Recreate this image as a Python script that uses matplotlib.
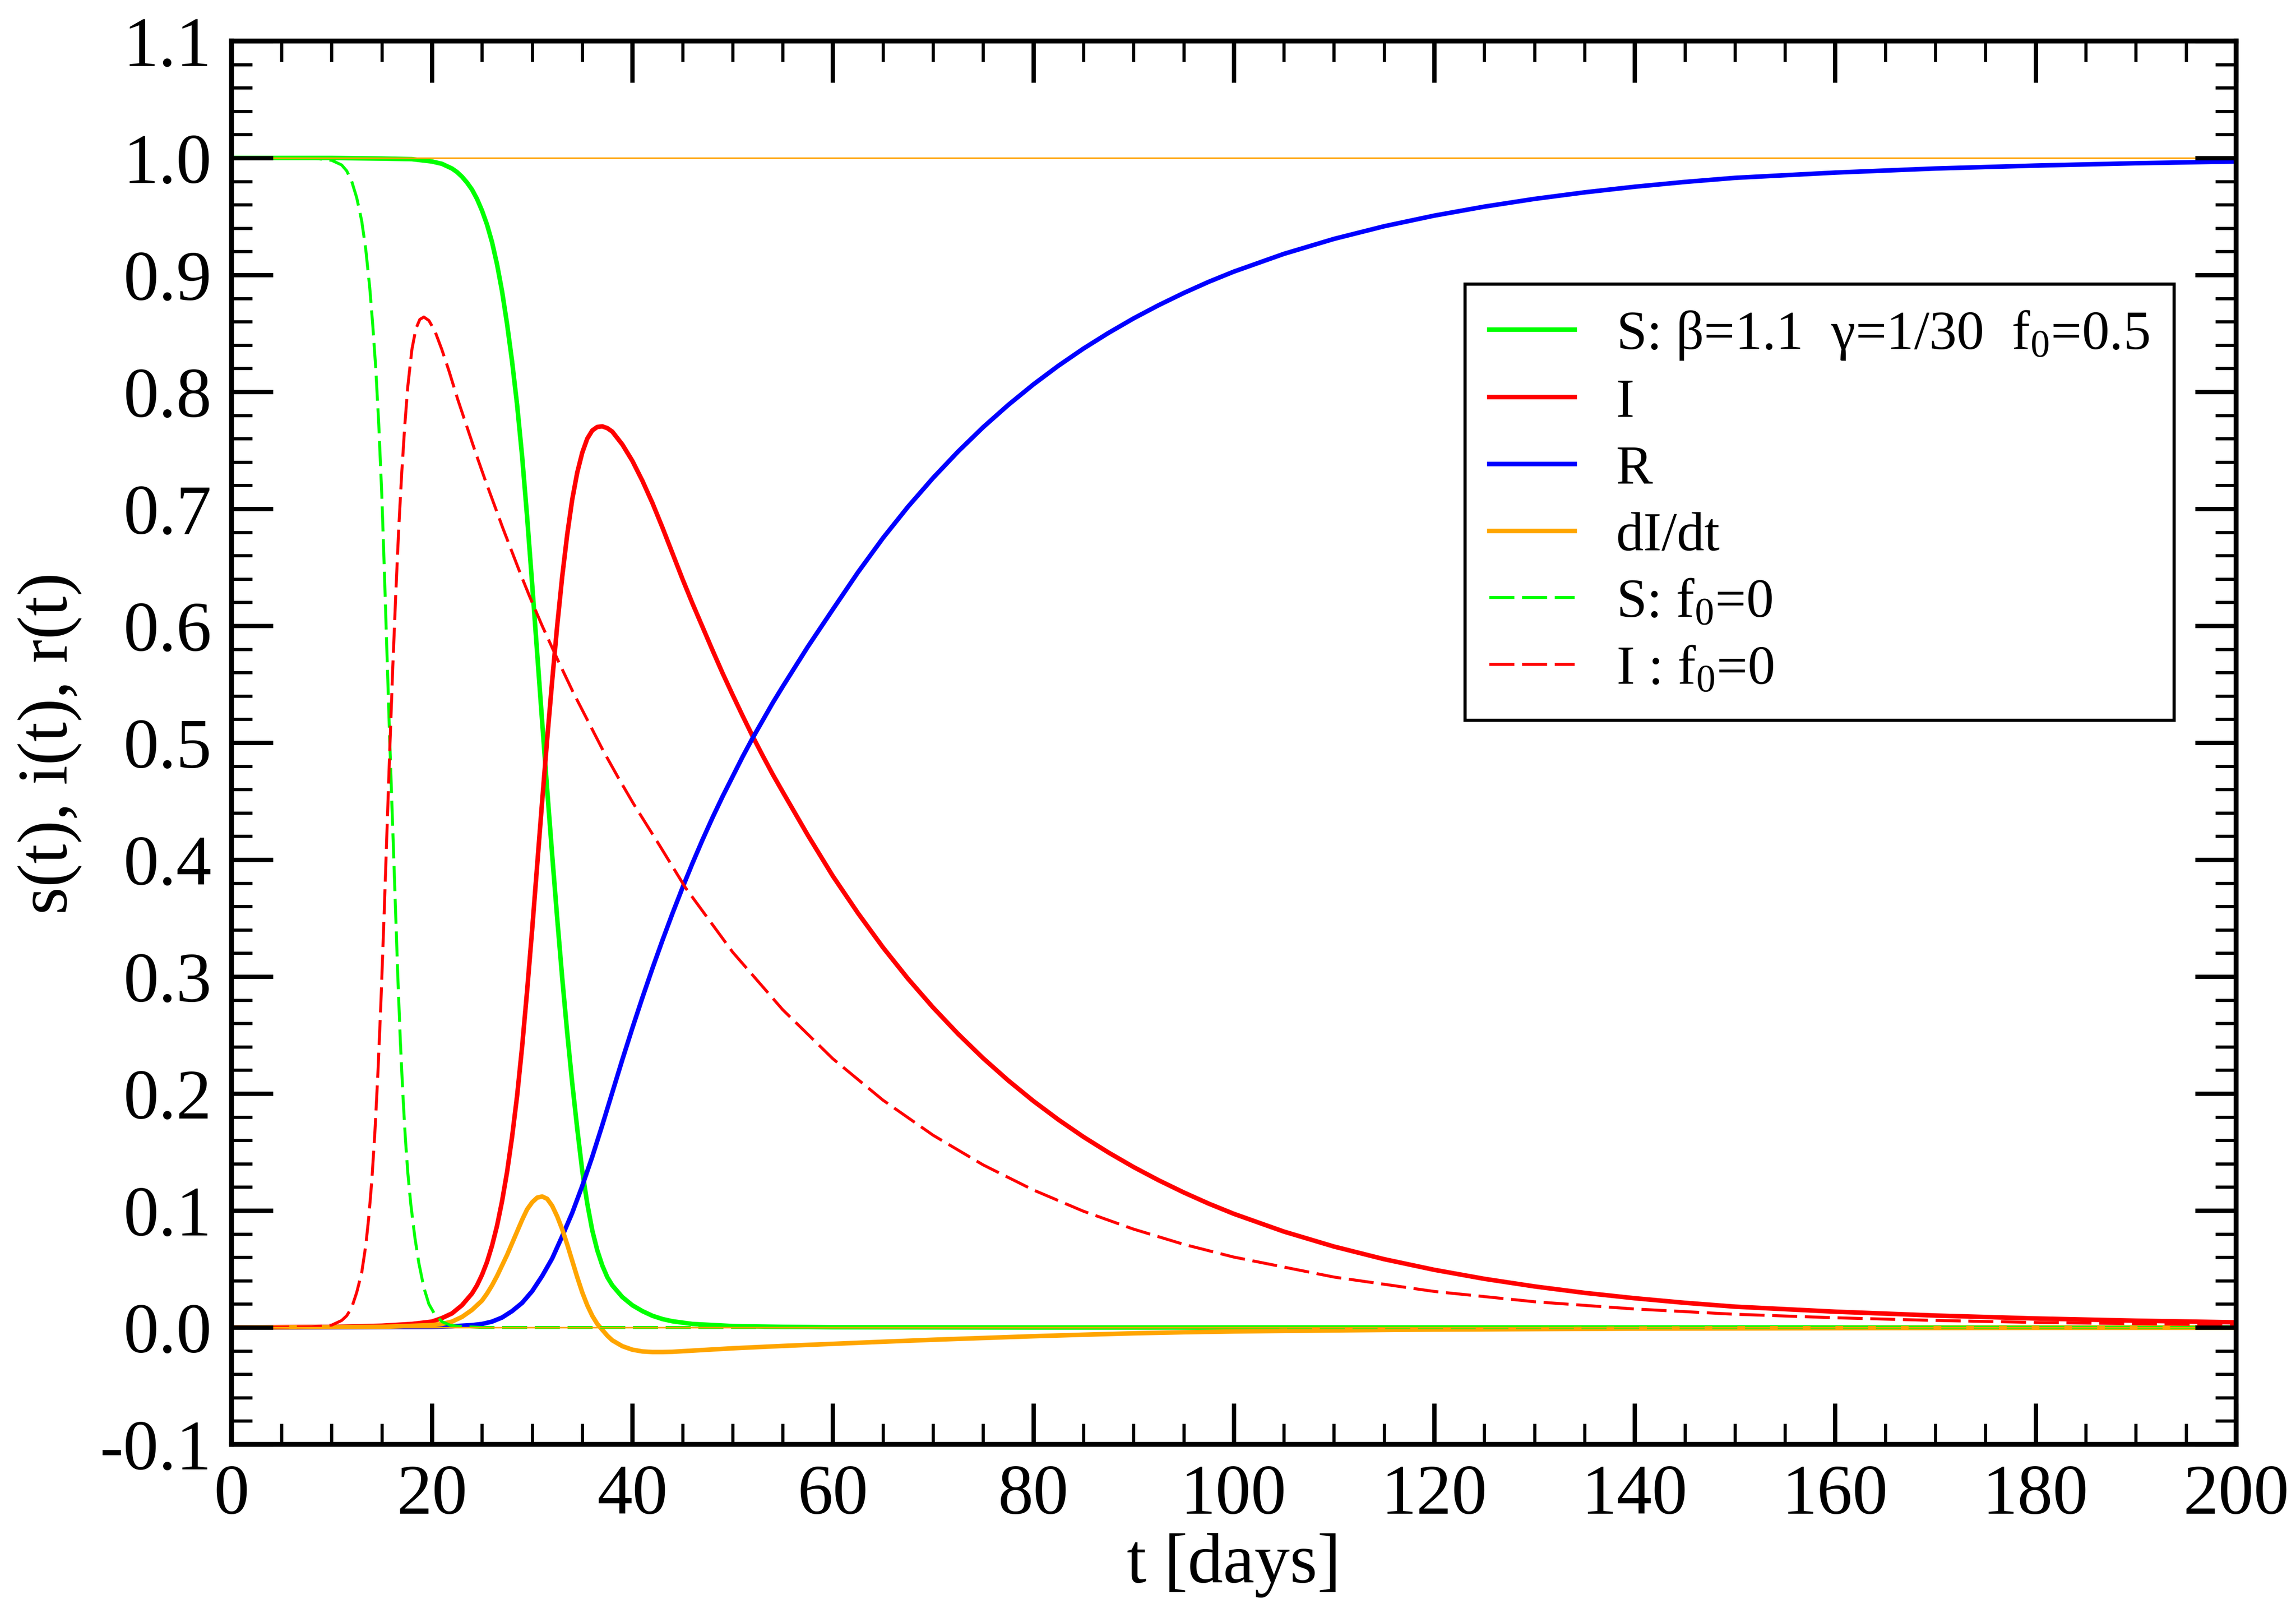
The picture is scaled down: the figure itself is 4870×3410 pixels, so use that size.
import matplotlib
matplotlib.use("Agg")
import matplotlib.pyplot as plt
from matplotlib.ticker import MultipleLocator, FormatStrFormatter

plt.rcParams['font.family'] = ['Liberation Serif', 'DejaVu Serif']
plt.rcParams['mathtext.fontset'] = 'custom'
plt.rcParams['mathtext.rm'] = 'Liberation Serif'
plt.rcParams['mathtext.it'] = 'Liberation Serif:italic'
plt.rcParams['axes.unicode_minus'] = False

# ---------------- data ----------------
# S : beta=1.1, gamma=1/30, f0=0.5
t_S = [0, 10, 15, 18, 20, 21, 22, 22.5, 23, 23.5, 24, 24.5, 25, 25.5, 26, 26.5, 27, 27.5,
       28, 28.5, 29, 29.5, 30, 30.5, 31, 31.5, 32, 32.5, 33, 33.5, 34, 34.5, 35, 35.5, 36,
       36.5, 37, 37.5, 38, 39, 40, 41, 42, 43, 44, 46, 50, 55, 60, 80, 200]
S = [1.0, 1.0, 0.9995, 0.999, 0.997, 0.995, 0.991, 0.988, 0.984, 0.979, 0.973, 0.965,
     0.955, 0.943, 0.928, 0.909, 0.886, 0.858, 0.826, 0.789, 0.745, 0.693, 0.636, 0.577,
     0.518, 0.460, 0.404, 0.350, 0.299, 0.252, 0.209, 0.170, 0.134, 0.106, 0.083, 0.066,
     0.053, 0.043, 0.036, 0.026, 0.019, 0.014, 0.010, 0.0072, 0.0053, 0.003, 0.0012,
     0.0005, 0.0002, 0.0, 0.0]

# I
t_I = [0, 10, 15, 18, 20, 21, 22, 23, 24, 24.5, 25, 25.5, 26, 26.5, 27, 27.5, 28, 28.5, 29,
       29.5, 30, 30.5, 31, 31.5, 32, 32.5, 33, 33.5, 34, 34.5, 35, 35.5, 36, 36.5, 37, 37.5,
       38, 39, 40, 41, 42, 43, 44, 45, 46, 47, 48, 49, 50, 51, 52, 53, 54, 55, 57.5, 60,
       62.5, 65, 67.5, 70, 72.5, 75, 77.5, 80, 82.5, 85, 87.5, 90, 92.5, 95, 97.5, 100, 105,
       110, 115, 120, 125, 130, 135, 140, 145, 150, 160, 170, 180, 190, 200]
I = [0.0, 0.0005, 0.0015, 0.003, 0.005, 0.008, 0.012, 0.019, 0.029, 0.036, 0.045, 0.056,
     0.070, 0.087, 0.108, 0.133, 0.163, 0.198, 0.240, 0.288, 0.340, 0.395, 0.450, 0.503,
     0.553, 0.600, 0.642, 0.678, 0.708, 0.731, 0.748, 0.760, 0.767, 0.770, 0.7705, 0.769,
     0.766, 0.755, 0.741, 0.724, 0.705, 0.684, 0.662, 0.640, 0.619, 0.599, 0.579, 0.5595,
     0.541, 0.523, 0.5055, 0.489, 0.473, 0.458, 0.421, 0.386, 0.3544, 0.325, 0.2982,
     0.2736, 0.251, 0.2302, 0.2112, 0.1937, 0.1777, 0.163, 0.1496, 0.1372, 0.1259, 0.1155,
     0.1059, 0.0972, 0.082, 0.0692, 0.0584, 0.0493, 0.0416, 0.0351, 0.0296, 0.025, 0.0211,
     0.0178, 0.0135, 0.0102, 0.0077, 0.0058, 0.0044]

# R
t_R = [0, 15, 20, 22, 24, 25, 26, 27, 28, 29, 30, 31, 32, 33, 34, 35, 36, 37, 38, 39, 40,
       41, 42, 43, 44, 45, 46, 47, 48, 49, 50, 51, 52, 53, 54, 55, 57.5, 60, 62.5, 65, 67.5,
       70, 72.5, 75, 77.5, 80, 82.5, 85, 87.5, 90, 92.5, 95, 97.5, 100, 105, 110, 115, 120,
       125, 130, 135, 140, 145, 150, 160, 170, 180, 190, 200]
R = [0.0, 0.0003, 0.0005, 0.001, 0.002, 0.003, 0.005, 0.0085, 0.014, 0.021, 0.031, 0.044,
     0.059, 0.078, 0.098, 0.121, 0.146, 0.173, 0.201, 0.229, 0.256, 0.282, 0.307, 0.331,
     0.354, 0.376, 0.397, 0.417, 0.436, 0.454, 0.471, 0.488, 0.504, 0.519, 0.534, 0.548,
     0.582, 0.614, 0.6456, 0.675, 0.7018, 0.7264, 0.749, 0.7698, 0.7888, 0.8063, 0.8223,
     0.837, 0.8504, 0.8628, 0.8741, 0.8845, 0.8941, 0.9028, 0.918, 0.9308, 0.9416, 0.9507,
     0.9584, 0.965, 0.9706, 0.9754, 0.9795, 0.983, 0.9875, 0.991, 0.9935, 0.9955, 0.997]

# dI/dt
t_dI = [0, 15, 20, 21, 22, 23, 24, 25, 25.5, 26, 26.5, 27, 27.5, 28, 28.5, 29, 29.5, 30,
        30.5, 31, 31.5, 32, 32.5, 33, 33.5, 34, 34.5, 35, 35.5, 36, 36.5, 37, 37.5, 38, 39,
        40, 41, 42, 43, 44, 46, 48, 50, 55, 60, 65, 70, 75, 80, 85, 90, 95, 100, 110, 120,
        140, 160, 180, 200]
dI = [0.0, 0.0005, 0.002, 0.003, 0.005, 0.009, 0.015, 0.023, 0.029, 0.036, 0.044, 0.053,
      0.062, 0.072, 0.082, 0.092, 0.101, 0.107, 0.111, 0.112, 0.110, 0.104, 0.095, 0.084,
      0.071, 0.057, 0.043, 0.030, 0.019, 0.010, 0.003, -0.002, -0.007, -0.011, -0.016,
      -0.019, -0.0205, -0.021, -0.021, -0.0208, -0.0198, -0.0188, -0.0178, -0.0158,
      -0.014, -0.0122, -0.0105, -0.009, -0.0075, -0.0062, -0.005, -0.0041, -0.0034,
      -0.0025, -0.0018, -0.001, -0.0006, -0.0003, -0.0002]

# S : f0=0
t_S0 = [0, 8, 10, 11, 11.5, 12, 12.5, 13, 13.4, 13.8, 14.1, 14.4, 14.7, 15.0, 15.2, 15.4,
        15.6, 15.8, 16.0, 16.2, 16.4, 16.6, 16.85, 17.1, 17.35, 17.6, 17.9, 18.3, 18.7,
        19.2, 19.7, 20.3, 21.0, 21.8, 22.6, 25, 200]
S0 = [1.0, 1.0, 0.998, 0.994, 0.989, 0.980, 0.966, 0.946, 0.922, 0.889, 0.857, 0.820,
      0.772, 0.712, 0.662, 0.608, 0.554, 0.500, 0.450, 0.400, 0.350, 0.300, 0.245, 0.200,
      0.162, 0.132, 0.105, 0.077, 0.055, 0.034, 0.020, 0.011, 0.005, 0.002, 0.001, 0.0,
      0.0]

# I : f0=0
t_I0 = [0, 8, 10, 11, 11.5, 12, 12.5, 13, 13.4, 13.7, 14.0, 14.3, 14.6, 14.9, 15.2, 15.5,
        15.8, 16.1, 16.4, 16.7, 17.0, 17.3, 17.6, 18.0, 18.4, 18.8, 19.2, 19.7, 20.3, 21.0,
        21.7, 22.6, 23.5, 24.4, 25.3, 26.2, 27.1, 28.0, 28.9, 29.8, 31.0, 32.6, 34.1, 35.6,
        37.1, 38.6, 40.1, 42.8, 45.3, 50, 55, 60, 65, 70, 75, 80, 85, 90, 95, 100, 110, 120,
        130, 140, 150, 160, 170, 180, 190, 200]
I0 = [0.0, 0.0005, 0.002, 0.006, 0.010, 0.017, 0.030, 0.047, 0.070, 0.094, 0.125, 0.165,
      0.215, 0.275, 0.345, 0.420, 0.495, 0.565, 0.628, 0.685, 0.732, 0.772, 0.805, 0.836,
      0.854, 0.862, 0.864, 0.861, 0.852, 0.836, 0.818, 0.793, 0.770, 0.747, 0.725, 0.704,
      0.683, 0.663, 0.643, 0.624, 0.600, 0.570, 0.543, 0.518, 0.493, 0.470, 0.448, 0.411,
      0.376, 0.321, 0.2717, 0.2298, 0.1944, 0.1644, 0.139, 0.1176, 0.0994, 0.0841, 0.0711,
      0.0602, 0.0431, 0.0308, 0.022, 0.0158, 0.0113, 0.0083, 0.006, 0.0043, 0.0032, 0.0023]

ref_levels = [0.0, 1.0]

labels = [r"S: β=1.1  γ=1/30  f$_0$=0.5", "I", "R", "dI/dt",
          r"S: f$_0$=0", r"I : f$_0$=0"]

x_ticks = list(range(0, 201, 20))
y_ticks = [-0.1, 0.0, 0.1, 0.2, 0.3, 0.4, 0.5, 0.6, 0.7, 0.8, 0.9, 1.0, 1.1]

# ---------------- figure ----------------
GREEN = '#00ff00'
RED = '#ff0000'
BLUE = '#0000ff'
ORANGE = '#ffa500'

fig = plt.figure(figsize=(4870 / 300, 3411 / 300), dpi=300)
ax = fig.add_axes([0.1008, 0.1017, 0.8731, 0.8725])

lw_s = 2.3
lw_d = 1.5
dash = (0, (8.5, 2.6))

ax.plot(t_S, S, color=GREEN, lw=lw_s, label=labels[0])
ax.plot(t_I, I, color=RED, lw=lw_s, label=labels[1])
ax.plot(t_R, R, color=BLUE, lw=lw_s, label=labels[2])
ax.plot(t_dI, dI, color=ORANGE, lw=lw_s, label=labels[3])
ax.plot(t_S0, S0, color=GREEN, lw=lw_d, ls=dash, label=labels[4])
ax.plot(t_I0, I0, color=RED, lw=lw_d, ls=dash, label=labels[5])
for lv in ref_levels:
    ax.axhline(lv, color=ORANGE, lw=0.8, zorder=2.1)

ax.set_xlim(0, 200)
ax.set_ylim(-0.1, 1.1)
ax.set_xticks(x_ticks)
ax.set_yticks(y_ticks)
ax.xaxis.set_minor_locator(MultipleLocator(5))
ax.yaxis.set_minor_locator(MultipleLocator(0.02))
ax.yaxis.set_major_formatter(FormatStrFormatter('%.1f'))
ax.set_axisbelow(False)

ax.tick_params(which='both', direction='in', top=True, right=True, labelsize=36)
ax.tick_params(which='major', length=21, width=2.2, pad=10)
ax.tick_params(which='minor', length=10.5, width=1.6)
for sp in ax.spines.values():
    sp.set_linewidth(2.5)

ax.set_xlabel("t [days]", fontsize=36, labelpad=2)
ax.set_ylabel("s(t), i(t), r(t)", fontsize=36, labelpad=9)

leg = ax.legend(loc='upper right', bbox_to_anchor=(0.969, 0.827), borderaxespad=0,
                fontsize=28, frameon=True, fancybox=False, handlelength=1.55,
                handletextpad=0.75, borderpad=0.45, labelspacing=0.3)
leg.get_frame().set_edgecolor('black')
leg.get_frame().set_linewidth(1.6)
leg.get_frame().set_alpha(1.0)

fig.savefig("out.png", dpi=300)
